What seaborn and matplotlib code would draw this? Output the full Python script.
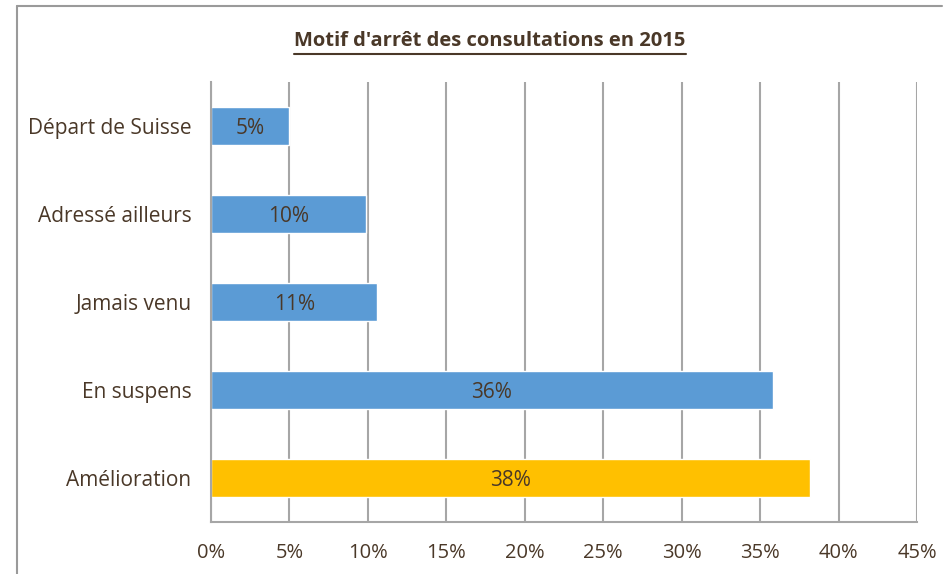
import pandas as pd
import seaborn as sns
import matplotlib.pyplot as plt
from matplotlib.lines import Line2D

# Data
categories = ['Départ de Suisse', 'Adressé ailleurs', 'Jamais venu', 'En suspens', 'Amélioration']
values = [5.0, 9.9, 10.6, 35.8, 38.2]
labels = ['5%', '10%', '11%', '36%', '38%']
groups = ['autre', 'autre', 'autre', 'autre', 'amelioration']
xticks = [0, 5, 10, 15, 20, 25, 30, 35, 40, 45]

df = pd.DataFrame({'motif': categories, 'pct': values, 'groupe': groups})

sns.set_style('white')
plt.rcParams['font.family'] = ['Open Sans', 'DejaVu Sans']
txt = '#4a3828'
grid = '#a6a6a6'

fig = plt.figure(figsize=(9.44, 5.74), dpi=100)
ax = fig.add_axes([0.2235, 0.0906, 0.7479, 0.7665])

sns.barplot(data=df, y='motif', x='pct', hue='groupe',
            palette={'autre': '#5b9bd5', 'amelioration': '#ffc000'},
            orient='h', dodge=False, width=0.43, legend=False,
            saturation=1, ax=ax)

# value labels centred in the bars
for i, (v, lab) in enumerate(zip(values, labels)):
    ax.text(v / 2, i + 0.03, lab, ha='center', va='center', fontsize=15, color=txt)

ax.set_xlim(0, 45)
ax.set_ylim(4.5, -0.5)
ax.set_xticks(xticks)
ax.set_xticklabels([f'{t}%' for t in xticks], fontsize=14.5, color=txt)
ax.set_yticks(range(len(categories)))
ax.set_yticklabels(categories, fontsize=15, color=txt)
ax.set_yticks([i - 0.5 for i in range(len(categories) + 1)], minor=True)
ax.tick_params(axis='y', which='major', length=0, pad=14)
ax.tick_params(axis='y', which='minor', length=6, width=1.2, color=grid, direction='out')
ax.tick_params(axis='x', length=6, width=1.2, color=grid, direction='out', pad=9)
ax.set_xlabel('')
ax.set_ylabel('')

ax.set_axisbelow(True)
ax.grid(axis='x', color=grid, linewidth=1.5)
ax.grid(axis='y', visible=False)
for side in ['top', 'right']:
    ax.spines[side].set_visible(False)
for side in ['left', 'bottom']:
    ax.spines[side].set_color(grid)
    ax.spines[side].set_linewidth(1.5)

# bold underlined title
title = fig.text(0.519, 0.928, "Motif d'arrêt des consultations en 2015",
                 ha='center', va='center', fontsize=14.5, fontweight='bold', color=txt)
fig.canvas.draw()
bb = title.get_window_extent().transformed(fig.transFigure.inverted())
fig.add_artist(Line2D([bb.x0, bb.x1], [bb.y0 - 0.004, bb.y0 - 0.004],
                      transform=fig.transFigure, color=txt, linewidth=1.5))

# chart frame (top and left edges visible)
fig.add_artist(Line2D([0.018, 0.998], [0.99, 0.99], transform=fig.transFigure,
                      color='#9a9a9a', linewidth=1.5))
fig.add_artist(Line2D([0.018, 0.018], [0.0, 0.99], transform=fig.transFigure,
                      color='#9a9a9a', linewidth=1.5))

fig.savefig('out.png', dpi=100)
